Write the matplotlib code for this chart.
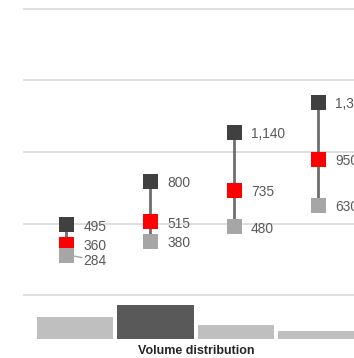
import matplotlib
matplotlib.use("Agg")
import matplotlib.pyplot as plt

# Price range per segment
high = [495, 800, 1140, 1350]
mid = [360, 515, 735, 950]
low = [284, 380, 480, 630]

# Volume share per segment (%)
volume = [28, 44, 18, 11]
highlight = 1

y_ticks = [0, 500, 1000, 1500, 2000]

DPI = 100
W, H = 354, 358
fig = plt.figure(figsize=(W / DPI, H / DPI), dpi=DPI)
plt.rcParams['font.family'] = ['Liberation Sans', 'DejaVu Sans']

def px_rect(left, top, right, bottom):
    return [left / W, 1 - bottom / H, (right - left) / W, (bottom - top) / H]

PT = 72 / DPI  # points per pixel

# Main dot/range panel (extends past right edge)
slot = 83.9
ax = fig.add_axes(px_rect(24.3, 8.5, 24.3 + 5 * slot, 295.3))
ax.set_xlim(-0.5, 4.5)
ax.set_ylim(0, 2000)
for s in ax.spines.values():
    s.set_visible(False)
ax.set_xticks([])
ax.set_yticks([])
for t in y_ticks:
    ax.axhline(t, color='#D9D9D9', lw=1.2, zorder=0, clip_on=False)

xs = list(range(len(high)))
ax.vlines(xs, low, high, color='#6E6E6E', lw=2, zorder=2)
ms = 15 * PT
ax.plot(xs, high, 's', color='#404040', ms=ms, mew=0, zorder=3, clip_on=False)
ax.plot(xs, mid, 's', color='#FF0000', ms=ms, mew=0, zorder=3, clip_on=False)
ax.plot(xs, low, 's', color='#A6A6A6', ms=ms, mew=0, zorder=3, clip_on=False)

off = 17 * PT
for name, series in (('high', high), ('mid', mid), ('low', low)):
    for x, v in zip(xs, series):
        dy = -0.5
        if name == 'low' and x == 0:
            dy = -4.5 * PT  # nudged down to clear the label above
        ax.annotate(f"{v:,}", (x, v), xytext=(off, dy), textcoords='offset points',
                    ha='left', va='center_baseline', fontsize=9.9, color='#595959',
                    annotation_clip=False)

# leader line for the nudged label
ax.annotate("", (xs[0], low[0]), xytext=(off - 1, -3 * PT), textcoords='offset points',
            arrowprops=dict(arrowstyle='-', color='#A6A6A6', lw=1,
                            shrinkA=0, shrinkB=ms / 2 + 0.5))

# Volume distribution panel
bslot = 80.5
bx = fig.add_axes(px_rect(75 - bslot / 2, 299.3, 75 - bslot / 2 + 5 * bslot, 339.3))
bx.set_xlim(-0.5, 4.5)
bx.set_ylim(0, 44 * 40 / 34.3)
for s in bx.spines.values():
    s.set_visible(False)
bx.set_xticks([])
bx.set_yticks([])
colors = ['#595959' if i == highlight else '#BFBFBF' for i in range(len(volume))]
bx.bar(range(len(volume)), volume, width=0.95, color=colors, lw=0)

fig.text(196.5 / W, 1 - 351 / H, "Volume distribution", ha='center', va='center',
         fontsize=9, fontweight='bold', color='#262626')

fig.savefig("out.png", dpi=DPI)
